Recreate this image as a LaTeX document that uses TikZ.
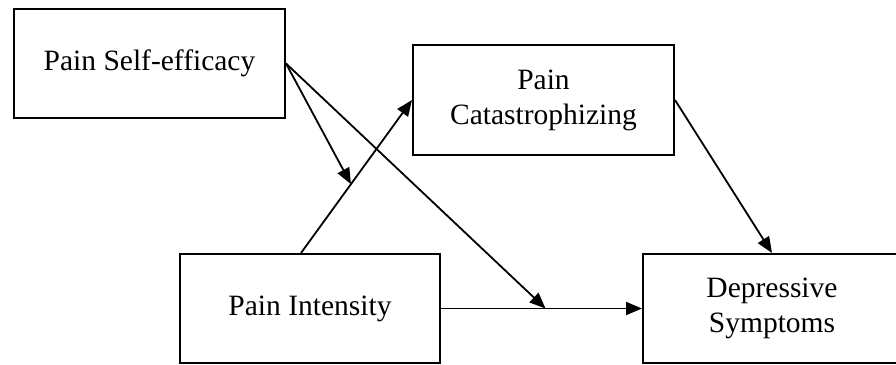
\documentclass[tikz,border=0pt]{standalone}
\usepackage{fontspec}
\setmainfont{Liberation Serif}
\usetikzlibrary{arrows.meta,calc}
\begin{document}
\begin{tikzpicture}[x=1pt,y=-1pt,>={Triangle[length=16pt,width=13pt]}, font=\fontsize{29.5}{35}\selectfont, line join=miter,
  box/.style={draw,line width=2pt,rectangle,align=center,inner sep=0pt,minimum height=109pt},
  arr/.style={->,line width=1.8pt}]
\useasboundingbox (0,0) rectangle (896,364);
% boxes
\node[box,minimum width=271pt] (eff) at (149.5,63.5) {Pain Self-efficacy};
\node[box,minimum width=261pt,minimum height=110pt] (cat) at (543.5,100) {Pain\\Catastrophizing};
\node[box,minimum width=260pt] (int) at (310,308.5) {Pain Intensity};
\node[box,minimum width=258pt] (dep) at (772,308.5) {Depressive\\Symptoms};
% paths
\coordinate (intn) at ([xshift=-9pt]int.north);
\coordinate (m1) at ($(intn)!.45!(cat.west)$);
\coordinate (m2) at ($(int.east)!.52!(dep.west)$);
\draw[arr] (intn) -- (cat.west);
\draw[arr] (int.east) -- (dep.west);
\draw[arr] (cat.east) -- (dep.north);
\draw[arr] (eff.east) -- (m1);
\draw[arr] (eff.east) -- (m2);
\end{tikzpicture}
\end{document}
